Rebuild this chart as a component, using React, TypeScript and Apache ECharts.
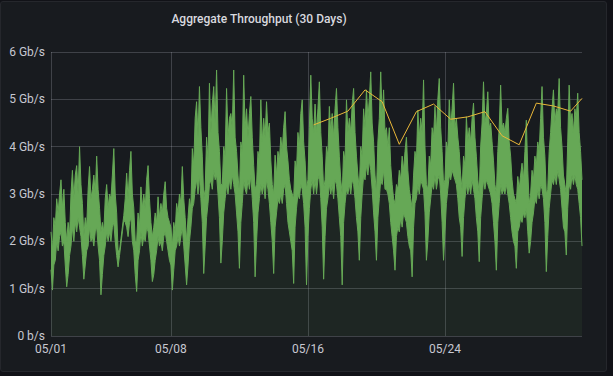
import React, { useEffect, useRef } from "react";
import * as echarts from "echarts";

// X axis tick labels (dates shown under the chart)
const xTickLabels = ["05/01", "05/08", "05/16", "05/24"];
// Y axis tick labels
const yTickLabels = ["0 b/s", "1 Gb/s", "2 Gb/s", "3 Gb/s", "4 Gb/s", "5 Gb/s", "6 Gb/s"];

// Throughput envelope in Gb/s: highest value in each 2-hour bucket,
// from 05/01 00:00 to 06/01 00:00 (one line per day: 00h,02h,...,22h)
const maxGbps: number[] = [
  2.2, 1.8, 2.5, 2.3, 2.9, 2.6, 3.0, 3.3, 2.7, 3.1, 2.4, 2.0,
  2.4, 2.1, 3.0, 3.5, 2.9, 3.4, 3.6, 3.0, 4.0, 3.2, 2.8, 2.1,
  2.5, 2.3, 3.1, 3.58, 2.9, 3.1, 3.4, 3.0, 3.8, 3.1, 2.7, 2.2,
  2.4, 2.2, 2.9, 3.2, 2.7, 3.0, 2.9, 3.4, 3.96, 3.0, 2.6, 1.8,
  1.8, 2.05, 2.3, 2.55, 2.9, 3.44, 2.9, 3.5, 3.9, 3.0, 2.7, 2.0,
  2.0, 2.6, 2.3, 3.15, 2.7, 3.0, 2.7, 3.3, 3.6, 2.9, 2.4, 2.1,
  2.3, 2.6, 2.4, 2.94, 2.5, 2.8, 2.6, 3.0, 3.26, 2.7, 2.5, 2.4,
  2.3, 1.9, 2.4, 2.2, 2.8, 2.6, 3.0, 2.8, 3.58, 2.9, 2.5, 2.0,
  2.5, 2.9, 2.7, 3.96, 3.6, 4.6, 4.95, 4.2, 5.27, 4.4, 3.8, 2.9,
  3.1, 4.2, 3.7, 5.34, 4.3, 4.9, 5.27, 4.5, 5.62, 4.3, 3.9, 3.2,
  3.2, 4.0, 3.8, 5.23, 4.2, 4.6, 4.7, 4.4, 5.62, 4.2, 3.9, 3.4,
  3.0, 4.1, 3.9, 5.51, 4.4, 4.8, 4.2, 4.7, 5.06, 4.2, 3.6, 3.1,
  3.2, 3.9, 3.7, 4.99, 4.1, 4.6, 4.2, 4.95, 4.3, 4.5, 3.7, 3.2,
  3.0, 3.82, 3.4, 3.9, 3.7, 4.2, 3.9, 4.4, 4.74, 4.0, 3.7, 3.3,
  3.1, 3.0, 2.9, 3.7, 3.5, 4.3, 4.0, 4.7, 4.99, 4.1, 3.7, 3.1,
  3.3, 4.4, 5.51, 4.6, 4.3, 4.9, 4.3, 4.8, 5.37, 4.3, 3.8, 3.1,
  3.3, 4.0, 3.8, 4.85, 4.3, 4.7, 4.2, 4.8, 5.23, 4.4, 3.8, 3.3,
  3.0, 3.9, 3.7, 4.99, 4.3, 4.6, 4.3, 4.9, 5.23, 4.3, 3.8, 3.4,
  3.1, 4.0, 3.8, 4.8, 4.4, 5.2, 4.6, 5.0, 5.58, 4.5, 4.1, 3.4,
  3.0, 4.1, 4.6, 5.58, 4.6, 5.2, 4.3, 4.4, 4.0, 4.4, 3.6, 3.2,
  2.9, 2.8, 3.2, 3.1, 3.5, 3.3, 3.8, 3.5, 3.9, 4.2, 3.5, 3.1,
  2.9, 2.7, 3.4, 3.9, 3.7, 4.77, 4.2, 4.6, 4.3, 5.41, 4.0, 3.2,
  3.1, 3.8, 3.6, 4.4, 4.2, 4.85, 4.3, 5.0, 5.44, 4.4, 3.9, 3.2,
  3.3, 4.1, 3.9, 4.99, 4.4, 4.8, 5.34, 4.4, 4.6, 4.2, 3.9, 3.4,
  3.1, 3.8, 3.6, 4.63, 4.1, 4.4, 4.1, 4.6, 4.92, 4.2, 3.8, 3.3,
  3.0, 4.0, 4.5, 5.37, 4.5, 4.7, 5.16, 4.4, 4.5, 4.1, 3.7, 3.2,
  3.0, 3.9, 4.4, 5.3, 4.4, 4.5, 4.3, 4.6, 4.81, 4.1, 3.8, 3.3,
  3.0, 2.9, 2.8, 3.37, 3.1, 3.4, 3.65, 3.3, 3.9, 4.56, 3.5, 2.8,
  3.0, 3.5, 3.3, 3.8, 3.6, 4.1, 3.9, 4.6, 5.27, 4.2, 3.8, 3.0,
  3.1, 3.9, 4.3, 4.8, 5.2, 4.5, 4.8, 4.7, 5.44, 4.4, 4.0, 3.4,
  3.2, 3.0, 4.1, 5.3, 4.5, 4.7, 4.3, 4.8, 4.6, 5.13, 4.3, 3.9,
  3.3,
];

// Lowest value in each 2-hour bucket (Gb/s)
const minGbps: number[] = [
  1.4, 0.97, 1.5, 1.6, 2.0, 1.8, 2.1, 2.2, 1.9, 2.0, 1.5, 1.04,
  1.3, 1.7, 1.9, 2.3, 2.0, 2.4, 2.2, 2.5, 2.3, 2.1, 1.7, 1.2,
  1.5, 1.8, 1.9, 2.3, 2.0, 2.1, 1.9, 2.2, 2.3, 1.9, 1.6, 0.87,
  1.3, 1.7, 1.9, 2.2, 2.0, 2.2, 2.0, 2.3, 2.4, 2.0, 1.7, 1.46,
  1.7, 1.95, 2.2, 2.45, 2.4, 2.3, 2.1, 2.4, 2.5, 2.0, 1.8, 1.3,
  0.94, 1.6, 1.8, 2.2, 1.9, 2.1, 2.0, 2.3, 2.2, 1.9, 1.6, 1.15,
  1.3, 1.6, 1.8, 2.1, 1.9, 2.0, 1.8, 2.1, 2.2, 2.0, 1.8, 1.6,
  1.5, 0.97, 1.4, 1.8, 1.9, 2.1, 1.9, 2.1, 2.3, 1.9, 1.5, 1.08,
  1.5, 2.0, 2.3, 2.7, 2.8, 3.1, 3.3, 3.0, 3.4, 2.9, 2.4, 1.32,
  1.9, 2.5, 2.8, 3.2, 3.3, 3.1, 3.5, 3.3, 3.4, 3.0, 2.5, 1.54,
  2.0, 2.6, 2.9, 3.2, 3.0, 3.3, 3.1, 3.4, 3.2, 3.0, 2.6, 2.2,
  1.43, 2.4, 2.8, 3.3, 3.1, 3.0, 3.3, 3.1, 3.4, 2.9, 2.4, 1.25,
  2.0, 2.6, 2.9, 3.2, 3.0, 3.2, 2.9, 3.3, 3.1, 2.8, 2.4, 2.0,
  1.32, 2.3, 2.6, 2.9, 2.8, 3.0, 2.8, 3.1, 3.2, 2.8, 2.4, 2.2,
  2.0, 1.8, 1.11, 2.3, 2.7, 3.0, 2.9, 3.2, 3.1, 2.8, 2.3, 1.08,
  2.1, 2.7, 3.1, 3.3, 3.0, 3.3, 3.0, 3.3, 3.4, 2.9, 2.3, 1.2,
  2.1, 2.7, 2.9, 3.2, 3.0, 3.2, 2.9, 3.3, 3.2, 2.9, 2.5, 2.1,
  1.08, 2.4, 2.8, 3.1, 3.0, 3.2, 3.0, 3.3, 3.2, 2.9, 2.5, 2.2,
  1.6, 2.5, 3.0, 3.4, 3.3, 3.6, 3.4, 3.7, 3.5, 3.1, 2.6, 2.2,
  1.6, 2.5, 2.9, 3.3, 3.2, 3.5, 3.1, 3.1, 3.0, 2.8, 2.4, 2.1,
  1.8, 1.39, 2.1, 2.3, 2.2, 2.5, 2.3, 2.6, 2.5, 2.4, 2.1, 1.9,
  1.8, 1.25, 2.3, 2.8, 2.9, 3.2, 3.0, 3.3, 3.2, 3.1, 2.6, 1.6,
  2.0, 2.6, 2.9, 3.2, 3.1, 3.4, 3.1, 3.3, 3.4, 3.0, 2.4, 1.6,
  2.2, 2.8, 3.1, 3.4, 3.3, 3.5, 3.4, 3.3, 3.2, 2.9, 2.5, 2.3,
  1.68, 2.5, 2.9, 3.2, 3.0, 3.2, 3.0, 3.3, 3.1, 2.9, 2.5, 2.2,
  1.57, 2.5, 2.9, 3.3, 3.1, 3.3, 3.2, 3.1, 3.0, 2.8, 2.4, 2.0,
  1.39, 2.4, 2.8, 3.2, 3.0, 3.1, 3.0, 3.2, 3.0, 2.8, 2.5, 2.2,
  2.0, 1.9, 1.43, 2.2, 2.3, 2.5, 2.4, 2.6, 2.5, 2.7, 2.2, 1.75,
  2.0, 2.4, 2.6, 2.9, 2.8, 3.1, 2.9, 3.2, 3.1, 2.9, 2.4, 1.36,
  2.1, 2.7, 3.0, 3.3, 3.2, 3.4, 3.2, 3.5, 3.3, 3.1, 2.7, 2.3,
  2.2, 1.71, 2.7, 3.2, 3.1, 3.4, 3.2, 3.4, 3.2, 3.1, 2.8, 2.5,
  1.9,
];

// Daily peak series (yellow)
const peakTimes = [
  "05/16 08:00", "05/17 08:00", "05/18 08:00", "05/19 08:00", "05/20 08:00",
  "05/21 08:00", "05/22 08:00", "05/23 08:00", "05/24 08:00", "05/25 08:00",
  "05/26 08:00", "05/27 08:00", "05/28 08:00", "05/29 08:00", "05/30 08:00",
  "05/31 08:00", "06/01 00:00",
];
const peakGbps = [
  4.46, 4.6, 4.75, 5.2, 4.95,
  4.05, 4.74, 4.9, 4.58, 4.63,
  4.74, 4.23, 4.04, 4.92, 4.86,
  4.75, 5.02,
];

const START_UTC = Date.UTC(2021, 4, 1);
const STEP_MS = 2 * 3600 * 1000;
const pad = (n: number) => (n < 10 ? "0" + n : "" + n);
const categories = maxGbps.map((_, i) => {
  const d = new Date(START_UTC + i * STEP_MS);
  return `${pad(d.getUTCMonth() + 1)}/${pad(d.getUTCDate())} ${pad(d.getUTCHours())}:00`;
});
const tickCats = xTickLabels.map((l) => l + " 00:00");

export default function App() {
  const ref = useRef<HTMLDivElement>(null);
  useEffect(() => {
    if (!ref.current) return;
    const chart = echarts.init(ref.current, undefined, { renderer: "svg" });
    const peakData = peakTimes.map((t, i) => [categories.indexOf(t), peakGbps[i]]);
    const bandData = maxGbps.map((mx, i) => Math.max(0, +(mx - minGbps[i]).toFixed(3)));
    const isTick = (_idx: number, val: string) => tickCats.indexOf(val) >= 0;
    const gridColor = "rgba(204,204,220,0.22)";
    const textColor = "#c7c8d1";
    const green = "#66a856";
    chart.setOption({
      animation: false,
      backgroundColor: "transparent",
      title: {
        text: "Aggregate Throughput (30 Days)",
        left: 259,
        top: 11,
        textAlign: "center",
        padding: 0,
        textStyle: {
          color: "#d8d9df",
          fontFamily: "Roboto",
          fontSize: 12,
          fontWeight: 500,
          lineHeight: 15,
        },
      },
      grid: { left: 51, right: 31, top: 52, bottom: 40 },
      xAxis: {
        type: "category",
        boundaryGap: false,
        data: categories,
        axisLine: { show: false },
        axisTick: { show: false },
        axisLabel: {
          interval: isTick,
          formatter: (v: string) => v.slice(0, 5),
          color: textColor,
          fontFamily: "Roboto",
          fontSize: 12,
          margin: 7,
        },
        splitLine: { show: true, interval: isTick, lineStyle: { color: gridColor, width: 1 } },
      },
      yAxis: {
        type: "value",
        min: 0,
        max: 6,
        interval: 1,
        axisLine: { show: false },
        axisTick: { show: false },
        axisLabel: {
          formatter: (v: number) => yTickLabels[Math.round(v)],
          color: textColor,
          fontFamily: "Roboto",
          fontSize: 12,
          margin: 6,
        },
        splitLine: { show: true, lineStyle: { color: gridColor, width: 1 } },
      },
      series: [
        {
          name: "min",
          type: "line",
          stack: "throughput",
          data: minGbps,
          showSymbol: false,
          lineStyle: { color: green, width: 1 },
          itemStyle: { color: green },
          areaStyle: { color: "rgba(115,191,105,0.1)" },
          z: 2,
        },
        {
          name: "band",
          type: "line",
          stack: "throughput",
          data: bandData,
          showSymbol: false,
          lineStyle: { color: green, width: 1 },
          itemStyle: { color: green },
          areaStyle: { color: green, opacity: 1 },
          z: 2,
        },
        {
          name: "peak",
          type: "line",
          data: peakData,
          showSymbol: false,
          lineStyle: { color: "#EAB839", width: 1 },
          itemStyle: { color: "#EAB839" },
          z: 3,
        },
      ],
    });
    return () => chart.dispose();
  }, []);

  return (
    <div style={{ position: "fixed", left: 0, top: 0, width: 613, height: 376, background: "#111217" }}>
      <div
        style={{
          position: "absolute",
          left: 0,
          top: 1,
          width: 605,
          height: 369,
          background: "#181b1f",
          border: "1px solid #25272c",
          borderRadius: 3,
        }}
      />
      <div ref={ref} style={{ position: "absolute", left: 0, top: 0, width: 613, height: 376 }} />
    </div>
  );
}
